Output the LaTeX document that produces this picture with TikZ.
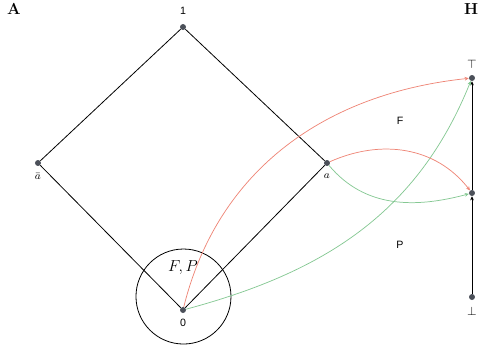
\documentclass[tikz,border=0pt]{standalone}
\usepackage{amsmath}
\usepackage{fontspec}
\setsansfont{Liberation Sans}
\usepackage{tikz}
\usetikzlibrary{arrows.meta,positioning,calc}
\definecolor{dotgrey}{HTML}{4B5059}
\definecolor{fred}{HTML}{EE8576}
\definecolor{pgreen}{HTML}{85C893}
\tikzset{elem/.style={circle,fill=dotgrey,minimum size=4.5pt,inner sep=0pt},
  order/.style={line width=0.6pt,draw=black},
  hom/.style={-{Stealth[length=1.1mm,width=1mm]},line width=0.55pt},
  elabel/.style={font=\sffamily\footnotesize,inner sep=1pt},
  panel/.style={font=\bfseries\large}}
\begin{document}
\begin{tikzpicture}
 \useasboundingbox (0,0) rectangle (12.727,9.367);
 \node[panel] (pa) at (0.370,9.129) {A};
 \node[panel] (ph) at (12.463,9.129) {H};
 % lattice
 \node[elem] (one) at (4.842,8.652) {};
 \node[elem] (abar) at (1.005,5.054) {};
 \node[elem] (a) at (8.652,5.054) {};
 \node[elem] (zero) at (4.842,1.164) {};
 \node[elabel,above=2mm of one] {1};
 \node[elabel,below=1.5mm of abar] {$\bar{a}$};
 \node[elabel,below=1.5mm of a] {$a$};
 \node[elabel,below=1.2mm of zero] {0};
 \draw[order] (one)--(abar)--(zero)--(a)--(one);
 \node[circle,draw,line width=0.6pt,minimum size=2.514cm] (nbhd) at (4.855,1.521) {};
 \node[font=\large] (fp) at (4.842,2.276) {$F,P$};
 % chain
 \node[elem] (top) at (12.489,7.303) {};
 \node[elem] (mid) at (12.489,4.260) {};
 \node[elem] (bot) at (12.489,1.508) {};
 \node[elabel,font=\small,above=1.3mm of top] {$\top$};
 \node[elabel,font=\small,below=1.3mm of bot] {$\bot$};
 \draw[hom,line width=0.6pt] (bot)--(mid);
 \draw[hom,line width=0.6pt] (mid)--(top);
 \node[elabel] (fl) at (10.584,6.165) {F};
 \node[elabel] (pl) at (10.584,2.884) {P};
 % maps
 \draw[hom,fred] (zero) to[out=76,in=186] (top);
 \draw[hom,pgreen] (zero) to[out=15,in=-112] (top);
 \draw[hom,fred] (a) to[out=24,in=128] (mid);
 \draw[hom,pgreen] (a) to[out=-50,in=195] (mid);
\end{tikzpicture}
\end{document}
